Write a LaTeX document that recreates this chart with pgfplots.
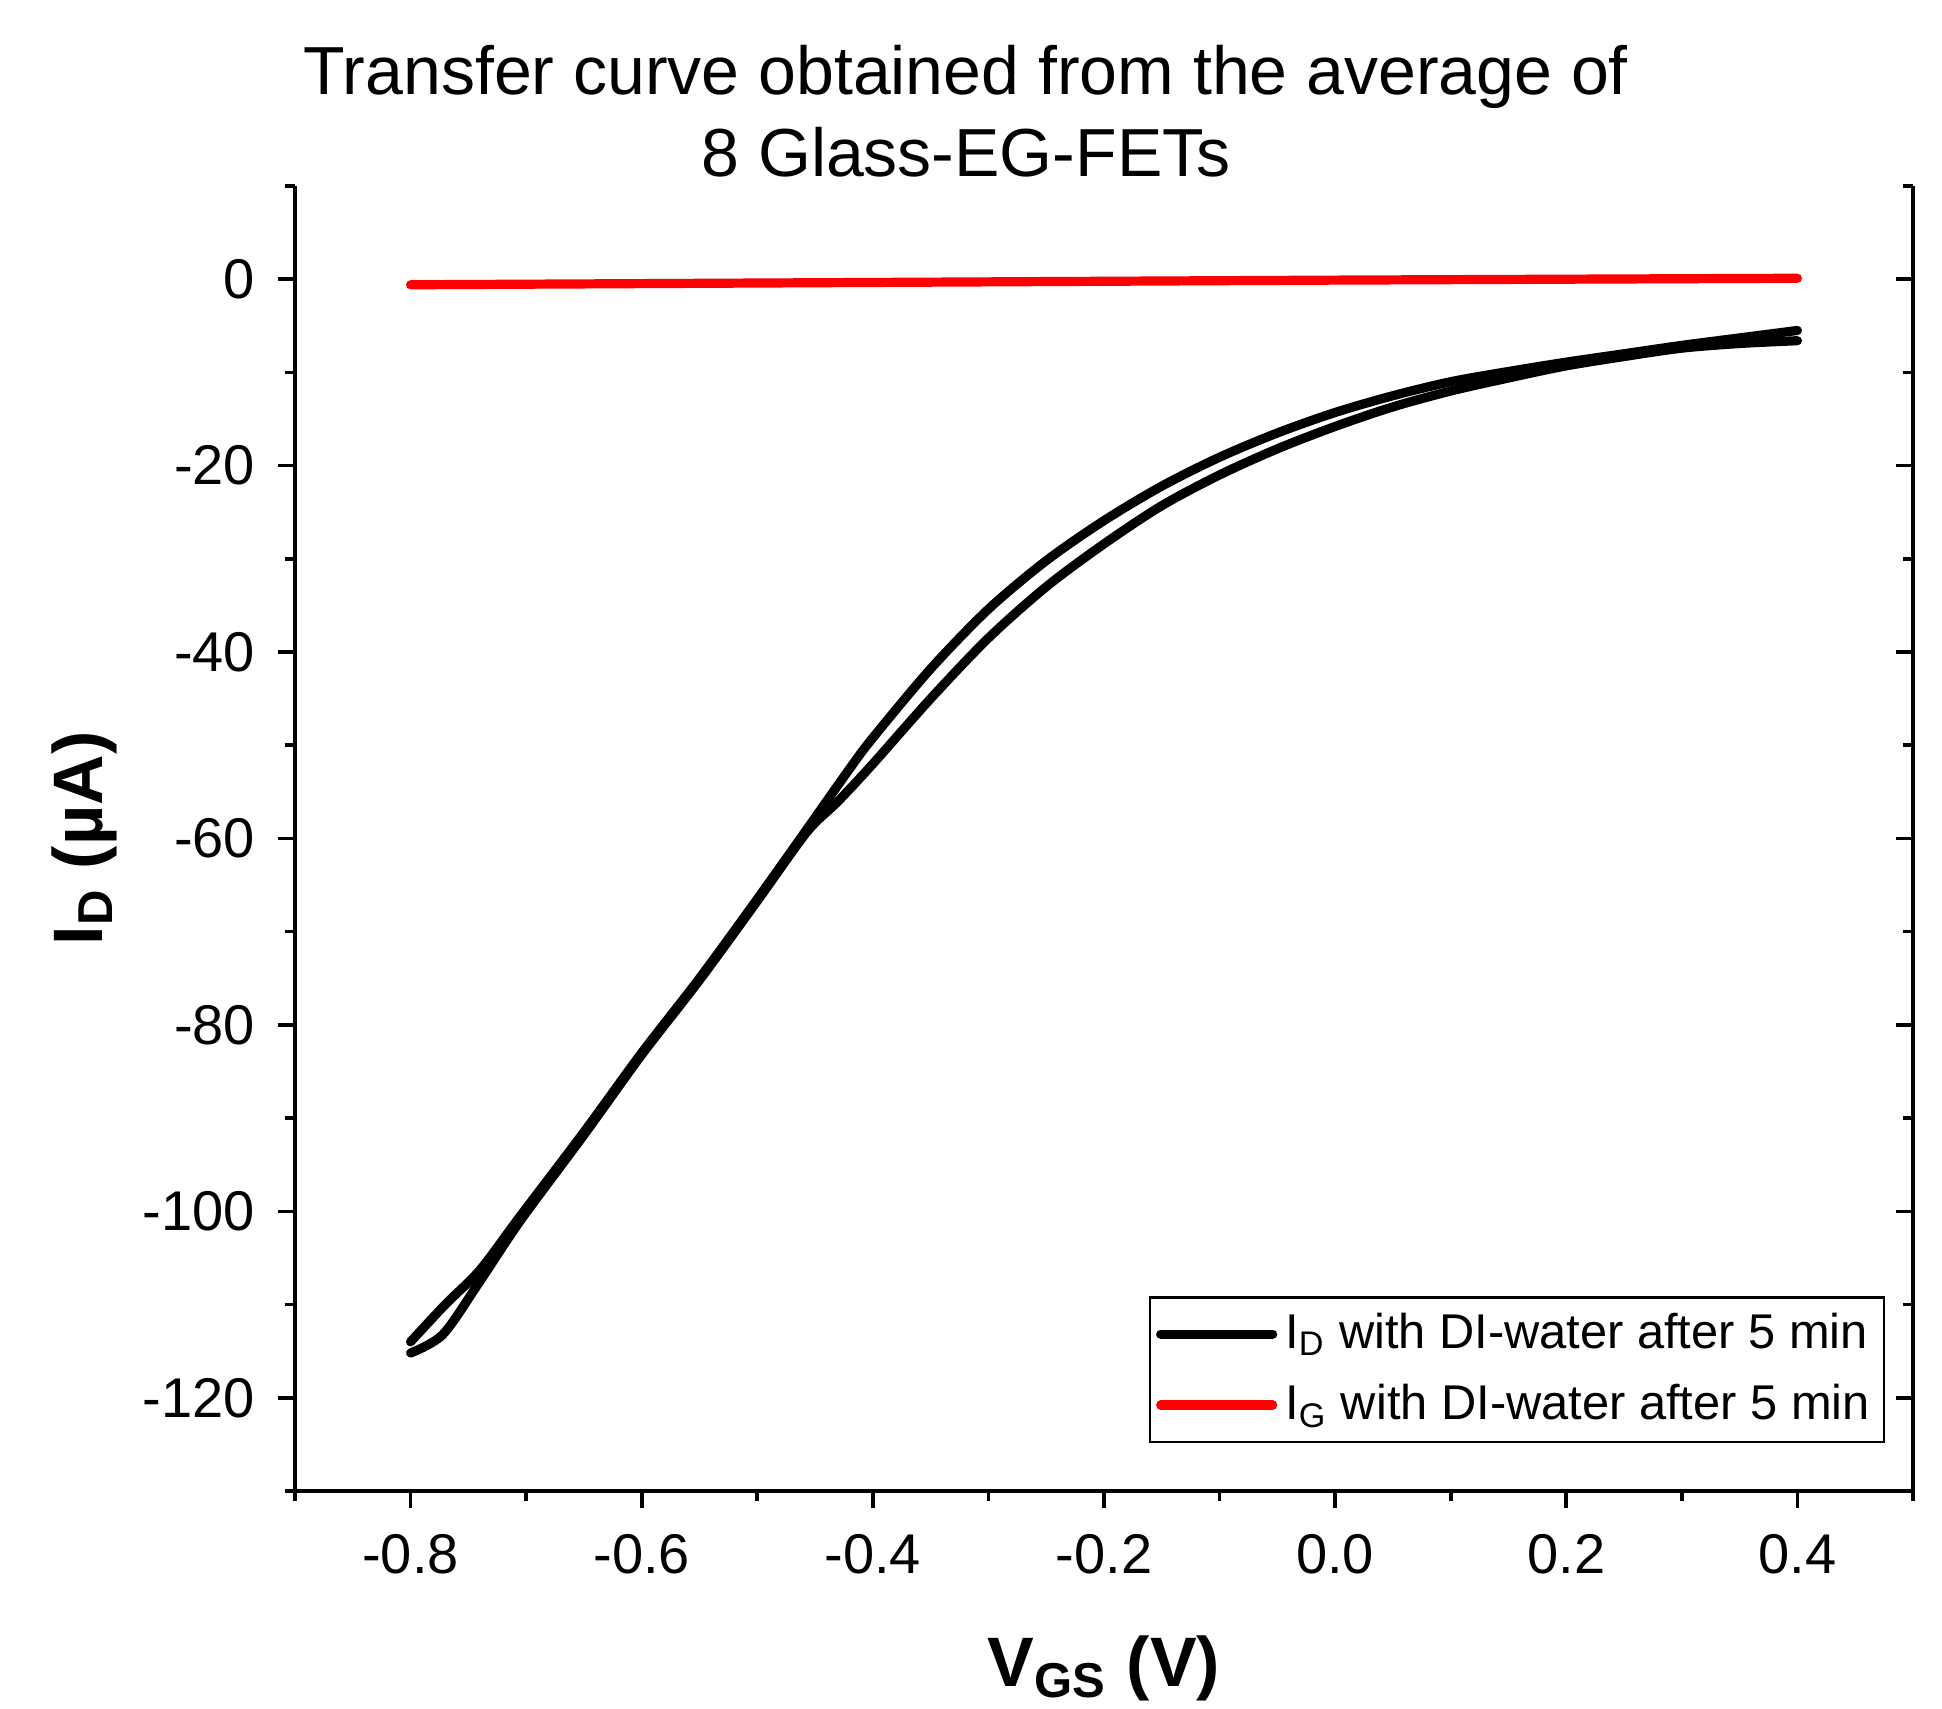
\documentclass[border=0pt]{standalone}
\usepackage{fontspec}
\setmainfont{Liberation Sans}
\usepackage{pgfplots}
\pgfplotsset{compat=1.18}

% drain current, upper branch of the loop
\pgfplotstableread{
V      I
-0.800 -114.0
-0.770 -110.0
-0.740 -106.3
-0.705 -100.5
-0.650 -91.5
-0.600 -83.0
-0.550 -75.0
-0.500 -66.5
-0.457 -59.0
-0.420 -52.5
-0.400 -49.2
-0.350 -41.8
-0.300 -35.4
-0.250 -30.2
-0.200 -25.9
-0.150 -22.2
-0.100 -19.1
-0.050 -16.5
0.000  -14.3
0.050  -12.5
0.100  -11.0
0.150  -9.9
0.200  -8.9
0.250  -8.0
0.300  -7.1
0.350  -6.3
0.400  -5.5
}\drainup

% drain current, lower branch of the loop
\pgfplotstableread{
V      I
0.400  -6.6
0.350  -6.9
0.300  -7.4
0.250  -8.3
0.200  -9.3
0.150  -10.6
0.100  -12.0
0.050  -13.7
0.000  -15.8
-0.050 -18.2
-0.100 -21.0
-0.150 -24.3
-0.200 -28.4
-0.250 -33.0
-0.300 -38.5
-0.350 -45.0
-0.400 -52.0
-0.430 -56.0
-0.457 -59.3
-0.500 -66.7
-0.550 -75.2
-0.600 -83.2
-0.650 -91.8
-0.705 -101.0
-0.740 -107.5
-0.772 -113.2
-0.800 -115.2
}\draindown

% gate current
\pgfplotstableread{
V      I
-0.800 -0.6
-0.400 -0.35
0.000  -0.1
0.400  0.1
}\gate

\begin{document}
\begin{tikzpicture}
\pgfplotsset{
  every axis/.append style={
    scale only axis,
    width=404.5pt, height=326.25pt,
    xmin=-0.9, xmax=0.5, ymin=-130, ymax=10,
    xtick={-0.8,-0.6,-0.4,-0.2,0,0.2,0.4},
    minor xtick={-0.9,-0.7,-0.5,-0.3,-0.1,0.1,0.3,0.5},
    ytick={-120,-100,-80,-60,-40,-20,0},
    minor ytick={-130,-110,-90,-70,-50,-30,-10,10},
    major tick length=4.25pt, minor tick length=2.5pt,
    tick style={black, line width=0.9pt},
    axis line style={-, line width=1pt},
  }
}
\begin{axis}[
    axis x line*=bottom, axis y line*=left,
    tick align=outside,
    xticklabels={-0.8,-0.6,-0.4,-0.2,0.0,0.2,0.4},
    yticklabels={-120,-100,-80,-60,-40,-20,0},
    ticklabel style={font=\fontsize{14}{16}\selectfont},
    xticklabel style={yshift=-3pt},
    yticklabel style={xshift=-2.2pt},
    xlabel={\textbf{V\textsubscript{GS} (V)}},
    ylabel={\textbf{I\textsubscript{D} (µA)}},
    label style={font=\fontsize{17.5}{20}\selectfont},
    xlabel style={at={(axis description cs:0.5,-0.150)}, anchor=base},
    ylabel style={at={(axis description cs:-0.119,0.5)}, anchor=base},
    title={Transfer curve obtained from the average of\\8 Glass-EG-FETs},
    title style={font=\fontsize{17}{20.5}\selectfont, align=center,
        at={(axis description cs:0.4147,1.090)}, anchor=north, inner sep=0pt},
    legend style={at={(axis description cs:0.9827,0.0368)}, anchor=south east,
        draw=black, line width=0.6pt, font=\fontsize{12.2}{14}\selectfont,
        inner xsep=1.5pt, inner ysep=2pt, row sep=3.4pt},
    legend cell align=left,
    legend image code/.code={\draw[#1, line cap=round] (0pt,0pt) -- (28pt,0pt);},
]
\addplot[black, line width=2.3pt, line join=round, line cap=round, smooth, tension=0.5] table[x=V, y=I] {\drainup};
\addlegendentry{I\textsubscript{D} with DI-water after 5 min}
\addplot[red, line width=2.3pt, line cap=round] table[x=V, y=I] {\gate};
\addlegendentry{I\textsubscript{G} with DI-water after 5 min}
\addplot[black, line width=2.3pt, line join=round, line cap=round, smooth, tension=0.5, forget plot] table[x=V, y=I] {\draindown};
\end{axis}
\begin{axis}[
    axis y line*=right, axis x line=none,
    tick align=inside,
    yticklabels={},
]
\end{axis}
\pgfresetboundingbox
\path[use as bounding box] (-73.75pt,-54.5pt) rectangle (411.75pt,372.75pt);
\end{tikzpicture}
\end{document}
